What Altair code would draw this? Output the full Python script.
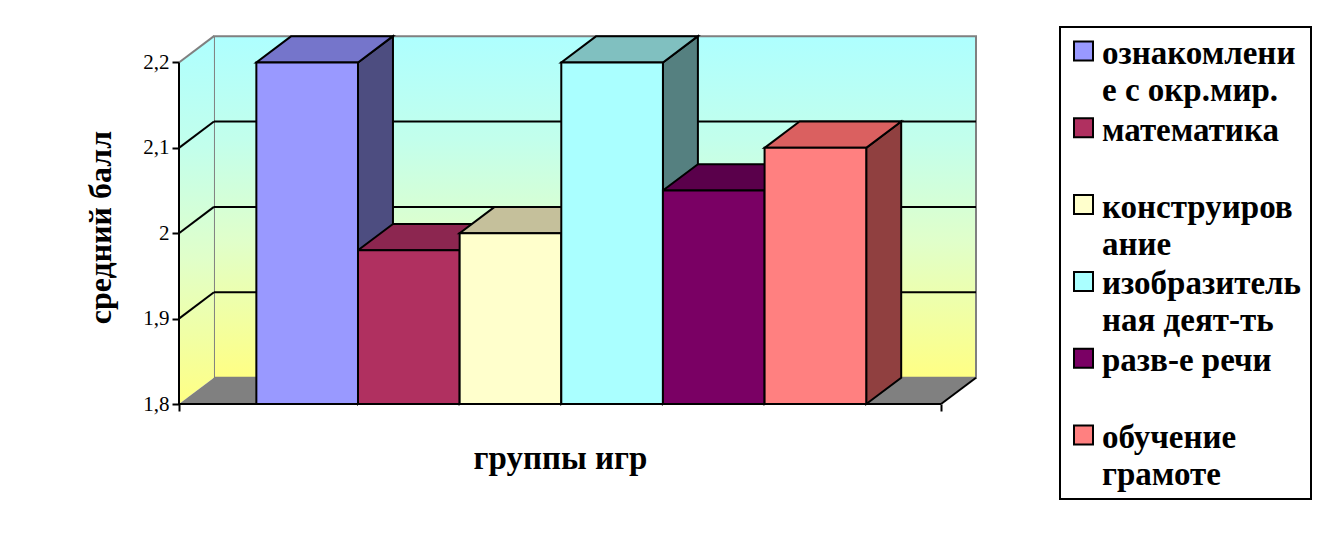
import altair as alt
import pandas as pd

# ---- data ----
categories = ["ознакомление с окр.мир.", "математика", "конструирование",
              "изобразительная деят-ть", "разв-е речи", "обучение грамоте"]
legend_lines = [["ознакомлени", "е с окр.мир."], ["математика", " "],
                ["конструиров", "ание"], ["изобразитель", "ная деят-ть"],
                ["разв-е речи", " "], ["обучение", "грамоте"]]
values = [2.2, 1.98, 2.0, 2.2, 2.05, 2.1]
y_ticks = [1.8, 1.9, 2.0, 2.1, 2.2]

front_colors = ["#9999FF", "#B03060", "#FFFFCC", "#AAFFFF", "#7A0064", "#FF8080"]
top_colors = ["#7575CB", "#8C2650", "#C5C09B", "#80C0C0", "#5A004B", "#DA6060"]
side_colors = ["#4D4D80", "#581830", "#808066", "#558080", "#3D0032", "#904040"]

# ---- pseudo-3D geometry (scale units) ----
BASE = 1.8
TOP = 2.2
DX = 0.344          # depth shift in x (slot units)
DY = 0.0308         # depth shift in y (value units)
LEFT0 = 0.761       # gap before the first bar
FRONT_END = 7.497   # end of the front floor edge
X_MAX = FRONT_END + DX
Y_MAX = 2.2415

xs = alt.Scale(domain=[0, X_MAX], nice=False, zero=False)
ys = alt.Scale(domain=[BASE, Y_MAX], nice=False, zero=False)

SERIF = ("'Liberation Serif', 'Times New Roman', Times, Tinos, 'Nimbus Roman', "
         "'Nimbus Roman No9 L', FreeSerif, 'DejaVu Serif', 'Noto Serif', serif")

X_AXIS = alt.Axis(
    values=[0, FRONT_END], labels=False, domain=False, grid=False,
    tickSize=7, tickWidth=2, tickColor="black",
    title="группы игр", titleFont=SERIF, titleFontSize=33, titleFontWeight="bold",
    titleColor="black", titleX=381, titleY=64, titleBaseline="alphabetic",
    titleAlign="center")
Y_AXIS = alt.Axis(
    values=y_ticks, labelExpr="replace(format(datum.value, '.1~f'), '.', ',')",
    labelFont=SERIF, labelFontSize=21, labelColor="black", labelPadding=3,
    domain=False, grid=False, tickSize=7, tickWidth=2, tickColor="black",
    title="средний балл", titleFont=SERIF, titleFontSize=32, titleFontWeight="bold",
    titleColor="black", titlePadding=25, titleY=200, titleAlign="center")


def X(f):
    return alt.X(f, scale=xs, axis=X_AXIS, stack=None)


def Y(f):
    return alt.Y(f, scale=ys, axis=Y_AXIS, stack=None)


bars = pd.DataFrame({
    "cat": categories,
    "value": values,
    "left": [LEFT0 + i for i in range(len(values))],
    "right": [LEFT0 + i + 1 for i in range(len(values))],
    "base": [BASE] * len(values),
    "front": front_colors,
})

side_rows, top_rows = [], []
for i, (c, v) in enumerate(zip(categories, values)):
    l, r = LEFT0 + i, LEFT0 + i + 1
    side_rows += [dict(cat=c, x=r, y=BASE, y2=v, col=side_colors[i]),
                  dict(cat=c, x=r + DX, y=BASE + DY, y2=v + DY, col=side_colors[i])]
    top_rows += [dict(cat=c, y=v, x=l, x2=r, col=top_colors[i]),
                 dict(cat=c, y=v + DY, x=l + DX, x2=r + DX, col=top_colors[i])]
sides = pd.DataFrame(side_rows)
tops = pd.DataFrame(top_rows)

wall_grad = alt.Gradient(
    gradient="linear", x1=0, y1=0, x2=0, y2=1,
    stops=[alt.GradientStop(color="#AEFFFF", offset=0),
           alt.GradientStop(color="#C2FFEC", offset=0.3),
           alt.GradientStop(color="#E0FFCA", offset=0.6),
           alt.GradientStop(color="#FFFF84", offset=1)])

back_wall = pd.DataFrame({"x": [DX], "x2": [X_MAX], "y": [BASE + DY], "y2": [TOP + DY]})
left_wall = pd.DataFrame({"x": [0, DX], "y": [BASE, BASE + DY], "y2": [TOP, TOP + DY]})
floor = pd.DataFrame({"y": [BASE, BASE + DY], "x": [0, DX], "x2": [FRONT_END, X_MAX]})
grid_vals = [v for v in y_ticks if BASE < v < TOP]
back_grid = pd.DataFrame({"x": [DX] * len(grid_vals), "x2": [X_MAX] * len(grid_vals),
                          "y": [v + DY for v in grid_vals]})
side_grid = pd.DataFrame({"x": [0] * len(grid_vals), "x2": [DX] * len(grid_vals),
                          "y": grid_vals, "y2": [v + DY for v in grid_vals]})
edges = pd.DataFrame({"x": [0, 0, FRONT_END], "x2": [0, FRONT_END, X_MAX],
                      "y": [BASE, BASE, BASE], "y2": [TOP, BASE, BASE + DY]})
top_edge = pd.DataFrame({"x": [0], "x2": [DX], "y": [TOP], "y2": [TOP + DY]})

l_back = alt.Chart(back_wall).mark_rect(fill=wall_grad, stroke="#808080", strokeWidth=2).encode(
    x=X("x:Q"), x2="x2:Q", y=Y("y:Q"), y2="y2:Q")

l_left = alt.Chart(left_wall).mark_area(fill=wall_grad, orient="vertical").encode(
    x=X("x:Q"), y=Y("y:Q"), y2="y2:Q")

l_floor = alt.Chart(floor).mark_area(fill="#808080", orient="horizontal").encode(
    y=Y("y:Q"), x=X("x:Q"), x2="x2:Q")

l_bgrid = alt.Chart(back_grid).mark_rule(color="black", strokeWidth=2).encode(
    x=X("x:Q"), x2="x2:Q", y=Y("y:Q"))

l_sgrid = alt.Chart(side_grid).mark_rule(color="black", strokeWidth=2).encode(
    x=X("x:Q"), x2="x2:Q", y=Y("y:Q"), y2="y2:Q")

l_topedge = alt.Chart(top_edge).mark_rule(color="#808080", strokeWidth=2).encode(
    x=X("x:Q"), x2="x2:Q", y=Y("y:Q"), y2="y2:Q")

l_sides = alt.Chart(sides).mark_area(orient="vertical", stroke="black", strokeWidth=2,
                                     strokeJoin="miter", opacity=1).encode(
    x=X("x:Q"), y=Y("y:Q"), y2="y2:Q",
    fill=alt.Fill("col:N", scale=None), detail="cat:N")

l_tops = alt.Chart(tops).mark_area(orient="horizontal", stroke="black", strokeWidth=2,
                                   strokeJoin="miter", opacity=1).encode(
    y=Y("y:Q"), x=X("x:Q"), x2="x2:Q",
    fill=alt.Fill("col:N", scale=None), detail="cat:N")

l_fronts = alt.Chart(bars).mark_rect(stroke="black", strokeWidth=2).encode(
    x=X("left:Q"), x2="right:Q", y=Y("base:Q"), y2="value:Q",
    fill=alt.Fill("front:N", scale=None))

l_edges = alt.Chart(edges).mark_rule(color="black", strokeWidth=2).encode(
    x=X("x:Q"), x2="x2:Q", y=Y("y:Q"), y2="y2:Q")

main = alt.layer(l_back, l_left, l_floor, l_bgrid, l_sgrid, l_topedge,
                 l_sides, l_tops, l_fronts, l_edges).properties(
    width=797, height=377, view=alt.ViewBackground(strokeWidth=0))

# ---- legend panel ----
leg = pd.DataFrame({"cat": categories, "idx": list(range(len(categories))),
                    "col": front_colors, "lines": legend_lines})
lys = alt.Scale(domain=[-0.3125, 5.833], reverse=True, nice=False, zero=False)

leg_sym = alt.Chart(leg).mark_square(size=361, stroke="black", strokeWidth=2, opacity=1).encode(
    x=alt.value(23.5), y=alt.Y("idx:Q", scale=lys, axis=None),
    fill=alt.Fill("col:N", scale=None))
leg_txt = alt.Chart(leg).mark_text(
    align="left", baseline="alphabetic", dy=13, lineHeight=37,
    font=SERIF, fontSize=33, fontWeight="bold", color="black").encode(
    x=alt.value(42), y=alt.Y("idx:Q", scale=lys, axis=None), text="lines")

legend = alt.layer(leg_sym, leg_txt).properties(
    width=251, height=472,
    view=alt.ViewBackground(stroke="black", strokeWidth=2, fill="white"))

chart = alt.hconcat(main, legend, spacing=82).properties(
    padding={"left": 76, "top": 18, "right": 5, "bottom": 5}
).configure(background="white")

chart.save("out.html", embed_options={"renderer": "svg", "actions": False})
